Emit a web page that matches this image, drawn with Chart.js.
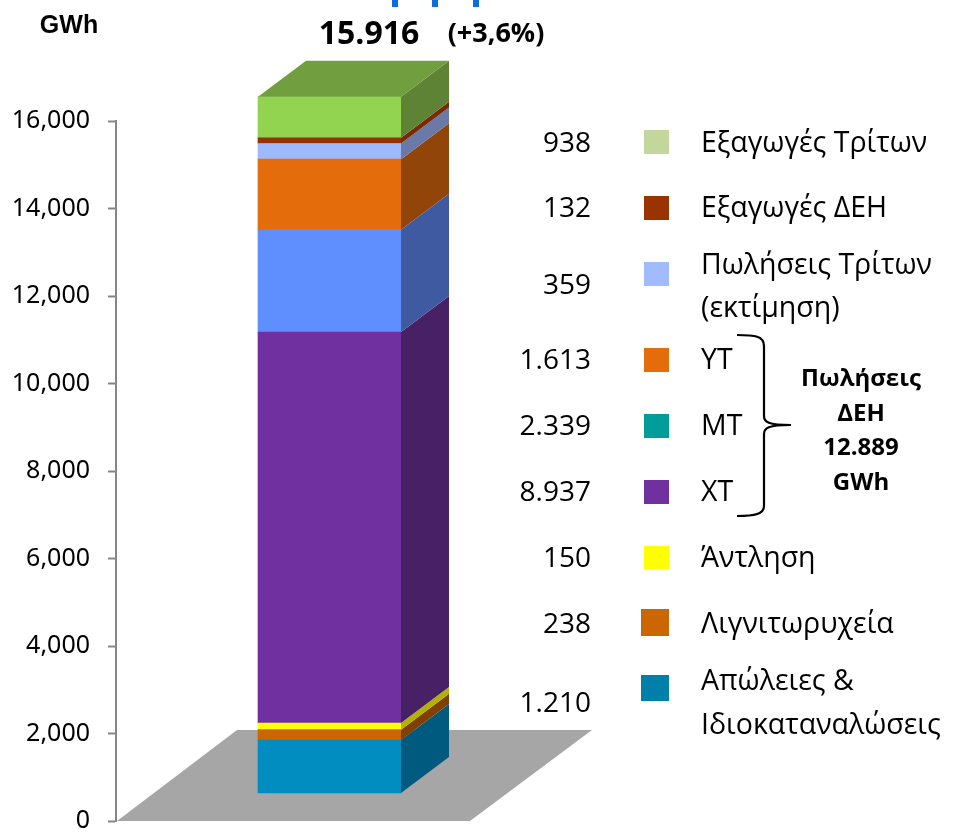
<!DOCTYPE html>
<html lang="el"><head><meta charset="utf-8">
<style>html,body{margin:0;padding:0;background:#fff}canvas{display:block}</style>
<script src="https://cdn.jsdelivr.net/npm/chart.js@4"></script>
</head><body><canvas id="c" width="953" height="833"></canvas>
<script>
// Data
const categories = ['2013'];
const seriesNames = ['Απώλειες & Ιδιοκαταναλώσεις','Λιγνιτωρυχεία','Άντληση','ΧΤ','ΜΤ','ΥΤ','Πωλήσεις Τρίτων (εκτίμηση)','Εξαγωγές ΔΕΗ','Εξαγωγές Τρίτων'];
const seriesValues = [1210,238,150,8937,2339,1613,359,132,938];
const frontColors = ['#028dc0','#cc6600','#ffff00','#7030a0','#5f8fff','#e46c0a','#9fb9ff','#963200','#92d350'];
const sideColors  = ['#005a7f','#813f00','#b5b100','#472066','#3f5aa0','#924508','#6979a8','#7b2900','#5f8335'];
const topColor = '#719f3f';
const yTicks = [0,2000,4000,6000,8000,10000,12000,14000,16000];
const valueLabels = ['938','132','359','1.613','2.339','8.937','150','238','1.210'];
const legendLabels = [['Εξαγωγές Τρίτων'],['Εξαγωγές ΔΕΗ'],['Πωλήσεις Τρίτων','(εκτίμηση)'],['ΥΤ'],['ΜΤ'],['ΧΤ'],['Άντληση'],['Λιγνιτωρυχεία'],['Απώλειες &','Ιδιοκαταναλώσεις']];
const legendColors = ['#c3d69b','#993300','#a0bbff','#e46c0a','#009c9a','#7030a0','#ffff00','#cc6600','#007fa8'];
const totalLabel = '15.916';
const changeLabel = '(+3,6%)';
const unitLabel = 'GWh';
const groupLabel = ['Πωλήσεις','ΔΕΗ','12.889','GWh'];

// Layout (not data)
const rowValueY = [144,209,286,361,427,493,559,625,704];
const swatchBoxes = [[644,130,25,24],[644,196,25,24],[644,262,25,24],[644,348,25,24],[644,414,25,24],[644,480,25,24],[644,546,25,23],[641,609,28,27],[641,675,28,26]];
const rowTextY = [[144],[209],[266,309],[361],[427],[493],[559],[625],[682,726]];
const DX = 48, DY = 36;
const SANS = '"Open Sans","Noto Sans",sans-serif';

function txt(ctx,s,x,y,font,align,color){
  ctx.font=font;ctx.textAlign=align||'left';ctx.textBaseline='middle';ctx.fillStyle=color||'#000';ctx.fillText(s,x,y);
}
function poly(ctx,pts,fill){
  ctx.beginPath();pts.forEach((p,i)=>i?ctx.lineTo(p[0],p[1]):ctx.moveTo(p[0],p[1]));ctx.closePath();ctx.fillStyle=fill;ctx.fill();
}
const scene3d = {
  id:'scene3d',
  beforeDatasetsDraw(chart){
    const ctx=chart.ctx,a=chart.chartArea;
    ctx.save();
    poly(ctx,[[a.left+1,a.bottom],[470,a.bottom],[592,730],[237,730]],'#a6a6a6');
    ctx.restore();
  },
  afterDatasetsDraw(chart){
    const ctx=chart.ctx;
    ctx.save();
    let last=null;
    seriesValues.forEach((v,i)=>{
      const b=chart.getDatasetMeta(i).data[0];
      const r=b.x+b.width/2;
      poly(ctx,[[r,b.base],[r+DX,b.base-DY],[r+DX,b.y-DY],[r,b.y]],sideColors[i]);
      last=b;
    });
    const l=last.x-last.width/2,r=last.x+last.width/2;
    poly(ctx,[[l,last.y],[l+DX,last.y-DY],[r+DX,last.y-DY],[r,last.y]],topColor);
    ctx.restore();
  },
  afterDraw(chart){
    const ctx=chart.ctx;
    ctx.save();
    // cropped title fragments at the top edge
    ctx.fillStyle='#0a6fd6';
    [392,432,473].forEach(x=>ctx.fillRect(x,0,6,7));
    txt(ctx,unitLabel,69,26,'bold 25px "Liberation Sans",sans-serif','center');
    txt(ctx,totalLabel,369,35,'bold 32px '+SANS,'center');
    txt(ctx,changeLabel,496,34,'bold 27px '+SANS,'center');
    valueLabels.forEach((s,i)=>txt(ctx,s,591,rowValueY[i],'28px '+SANS,'right'));
    legendColors.forEach((c,i)=>{const b=swatchBoxes[i];ctx.fillStyle=c;ctx.fillRect(b[0],b[1],b[2],b[3]);});
    legendLabels.forEach((lines,i)=>lines.forEach((s,j)=>txt(ctx,s,701,rowTextY[i][j],'28.5px '+SANS,'left')));
    groupLabel.forEach((s,i)=>txt(ctx,s,861,379+i*34.7,'bold 24px '+SANS,'center'));
    // brace
    ctx.strokeStyle='#000';ctx.lineWidth=2.2;ctx.beginPath();
    ctx.moveTo(737,335);ctx.bezierCurveTo(755,335,764,336,764,346);
    ctx.lineTo(764,416);ctx.bezierCurveTo(764,422,768,425,791,425);
    ctx.moveTo(791,425);ctx.bezierCurveTo(768,425,764,428,764,434);
    ctx.lineTo(764,506);ctx.bezierCurveTo(764,514,755,516,737,516);
    ctx.stroke();
    ctx.restore();
  }
};
new Chart(document.getElementById('c'),{
  type:'bar',
  data:{labels:categories,datasets:seriesNames.map((n,i)=>({
    label:n,data:[seriesValues[i]],backgroundColor:frontColors[i],borderWidth:0,yAxisID:'y2',clip:false,barThickness:143
  }))},
  options:{
    responsive:false,animation:false,
    layout:{padding:{left:0,right:410,top:121,bottom:12}},
    plugins:{legend:{display:false},tooltip:{enabled:false}},
    scales:{
      x:{stacked:true,display:false},
      y:{position:'left',min:0,max:16000,afterFit(s){s.width=116;s.paddingTop=0;s.paddingBottom=0;},
        afterBuildTicks(s){s.ticks=yTicks.map(v=>({value:v}));},
        border:{display:true,color:'#868686',width:2},
        grid:{drawOnChartArea:false,drawTicks:true,tickLength:8,color:'#868686',tickWidth:2},
        ticks:{padding:18,color:'#000',font:{family:'"Noto Sans"',size:25},callback:v=>v.toLocaleString('en-US')}},
      y2:{display:false,stacked:true,min:-640,max:15360}
    }
  },
  plugins:[scene3d]
});
</script></body></html>
